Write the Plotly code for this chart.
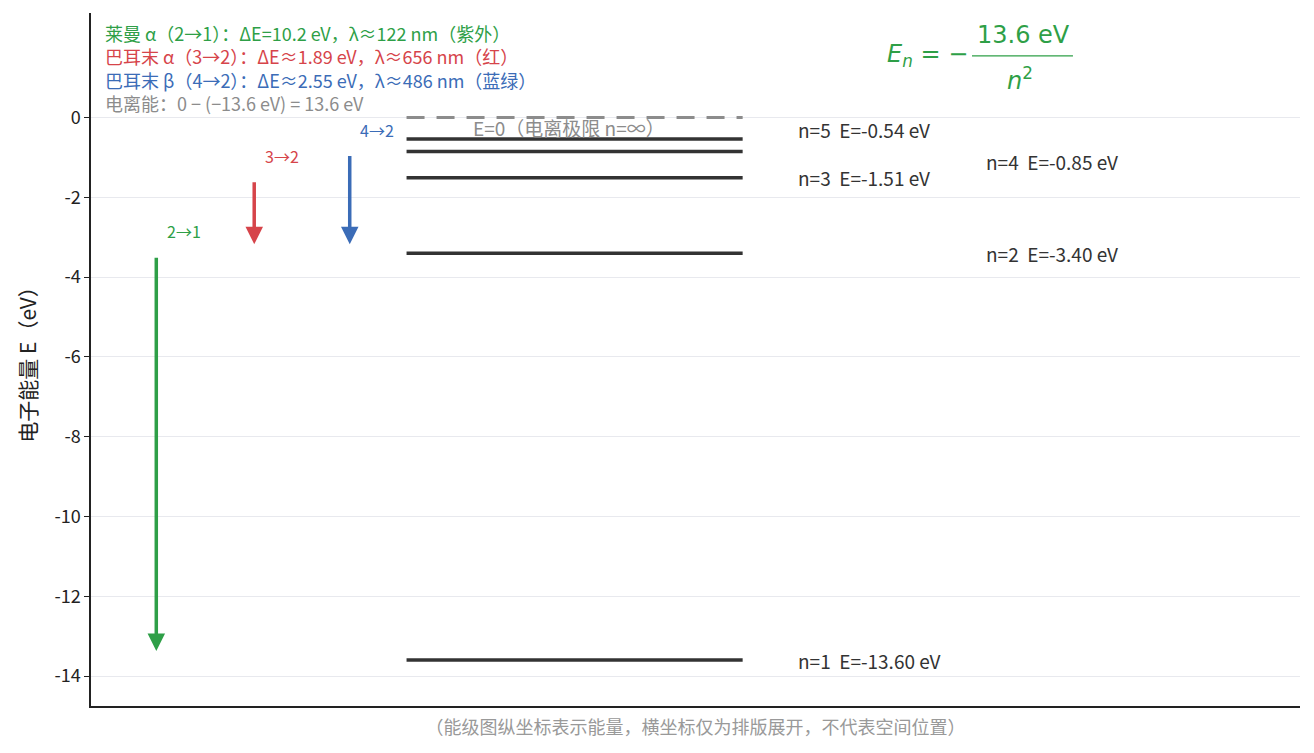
import plotly.graph_objects as go

# Hydrogen energy levels (eV)
levels_n = [1, 2, 3, 4, 5]
levels_E = [-13.60, -3.40, -1.51, -0.85, -0.54]
label_shift = [0.0, 0.0, 0.0, -0.25, 0.25]   # keep n=4 / n=5 labels apart

# transitions drawn as arrows
trans_from = [2, 3, 4]
trans_to = [1, 2, 2]
trans_color = ['#2e9f47', '#d6444a', '#3b6cb7']
trans_x = [0.54, 1.35, 2.14]

info_lines = [
    ('莱曼 α（2→1）：ΔE=10.2 eV，λ≈122 nm（紫外）', '#2e9f47'),
    ('巴耳末 α（3→2）：ΔE≈1.89 eV，λ≈656 nm（红）', '#d6444a'),
    ('巴耳末 β（4→2）：ΔE≈2.55 eV，λ≈486 nm（蓝绿）', '#3b6cb7'),
    ('电离能：0 − (−13.6 eV) = 13.6 eV', '#8c8c8c'),
]

y_ticks = [0, -2, -4, -6, -8, -10, -12, -14]

FONT = 'Noto Sans CJK SC'
LINE_X0, LINE_X1 = 2.61, 5.39

E = dict(zip(levels_n, levels_E))

fig = go.Figure()

# ionization limit
fig.add_trace(go.Scatter(
    x=[LINE_X0, LINE_X1], y=[0, 0], mode='lines',
    line=dict(color='#8c8c8c', width=3, dash='18px,12px'),
    hoverinfo='skip', showlegend=False))

for n, en, sh in zip(levels_n, levels_E, label_shift):
    fig.add_trace(go.Scatter(
        x=[LINE_X0, LINE_X1], y=[en, en], mode='lines',
        line=dict(color='#333333', width=3.5),
        hoverinfo='skip', showlegend=False))
    lx = 5.83 if n % 2 == 1 else 7.39
    fig.add_annotation(x=lx, y=en + sh, xref='x', yref='y',
                       text=f'n={n}  E={en:.2f} eV', showarrow=False,
                       xanchor='left', yanchor='middle',
                       font=dict(family=FONT, size=19, color='#333333'))

fig.add_annotation(x=3.95, y=-0.25, xref='x', yref='y',
                   text='E=0（电离极限 n=∞）', showarrow=False,
                   xanchor='center', yanchor='middle',
                   font=dict(family=FONT, size=19, color='#8c8c8c'))

# transition arrows
for hi, lo, c, x in zip(trans_from, trans_to, trans_color, trans_x):
    fig.add_annotation(x=x, y=E[lo], ax=x, ay=E[hi],
                       xref='x', yref='y', axref='x', ayref='y',
                       showarrow=True, arrowhead=2, arrowsize=1.0,
                       arrowwidth=3.5, arrowcolor=c,
                       standoff=9, startstandoff=3, text='')
    fig.add_annotation(x=x + 0.07, y=E[hi] + 0.55, xref='x', yref='y',
                       text=f'{hi}→{lo}', showarrow=False,
                       xanchor='left', yanchor='middle',
                       font=dict(family=FONT, size=16, color=c))

# info text block, one annotation so the lines don't collide
info_html = '<br>'.join(f'<span style="color:{c}">{t}</span>' for t, c in info_lines)
fig.add_annotation(x=0.011, y=0.92, xref='paper', yref='paper',
                   text=info_html, showarrow=False, align='left',
                   xanchor='left', yanchor='middle', borderpad=0,
                   font=dict(family=FONT, size=18))

# formula E_n = -13.6 eV / n^2
green = '#2e9f47'
fig.add_annotation(x=0.727, y=0.938, xref='paper', yref='paper',
                   text='<i>E<sub>n</sub></i> = −', showarrow=False,
                   xanchor='right', yanchor='middle',
                   font=dict(family='DejaVu Sans', size=24, color=green))
fig.add_annotation(x=0.771, y=0.968, xref='paper', yref='paper',
                   text='13.6 eV', showarrow=False,
                   xanchor='center', yanchor='middle',
                   font=dict(family='DejaVu Sans', size=24, color=green))
fig.add_annotation(x=0.768, y=0.905, xref='paper', yref='paper',
                   text='<i>n</i><sup>2</sup>', showarrow=False,
                   xanchor='center', yanchor='middle',
                   font=dict(family='DejaVu Sans', size=24, color=green))
fig.add_shape(type='line', xref='paper', yref='paper',
              x0=0.7287, x1=0.8122, y0=0.938, y1=0.938,
              line=dict(color=green, width=1.2))

fig.update_layout(
    width=1314, height=753,
    margin=dict(l=83, r=22, t=5, b=55),
    plot_bgcolor='white', paper_bgcolor='white',
    font=dict(family=FONT, color='#222222'),
    showlegend=False,
)
fig.update_xaxes(range=[0, 10], showticklabels=False, ticks='', showgrid=False,
                 zeroline=False, showline=True, linecolor='#222222', linewidth=1.5,
                 title=dict(text='（能级图纵坐标表示能量，横坐标仅为排版展开，不代表空间位置）',
                            font=dict(family=FONT, size=18, color='#999999'),
                            standoff=15))
fig.update_yaxes(range=[-14.75, 2.62], tickvals=y_ticks, ticktext=[str(v) for v in y_ticks],
                 ticks='outside', ticklen=5, tickcolor='#222222',
                 tickfont=dict(family=FONT, size=18, color='#222222'),
                 showgrid=True, gridcolor='#e8e9ee', gridwidth=1, zeroline=False,
                 showline=True, linecolor='#222222', linewidth=1.5,
                 title=dict(text='电子能量 E（eV）', font=dict(family=FONT, size=21, color='#222222'),
                            standoff=12))

fig.write_html('out.html')
